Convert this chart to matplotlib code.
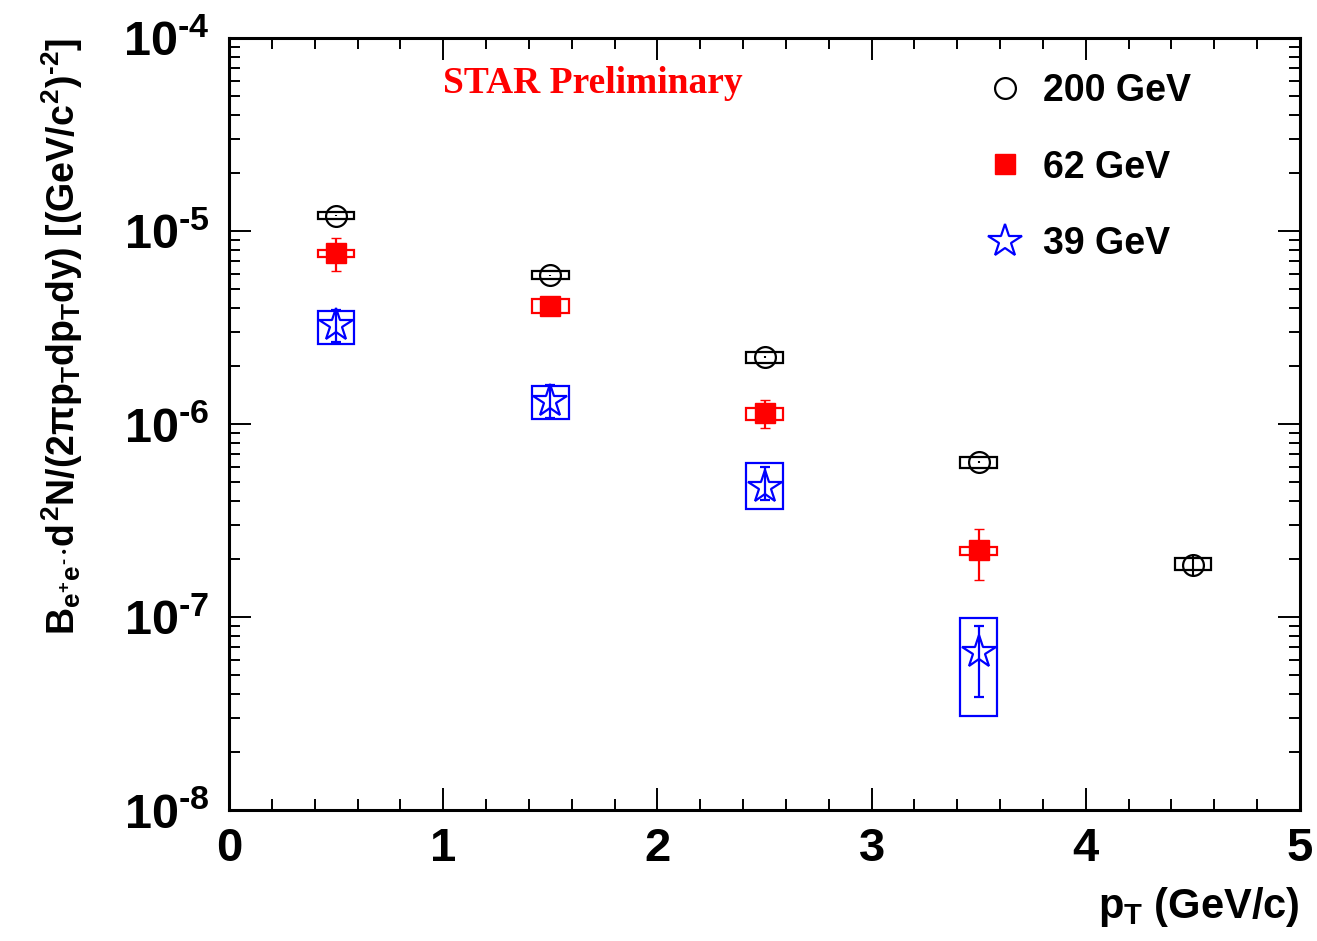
import math
import matplotlib
matplotlib.use('Agg')
import matplotlib.pyplot as plt
from matplotlib.patches import Rectangle
from matplotlib.lines import Line2D
from matplotlib.ticker import MultipleLocator, LogLocator, FuncFormatter, NullFormatter

plt.rcParams['font.family'] = ['Liberation Sans', 'DejaVu Sans']
plt.rcParams['font.weight'] = 'bold'
plt.rcParams['mathtext.fontset'] = 'custom'
plt.rcParams['mathtext.rm'] = 'Liberation Sans:bold'
plt.rcParams['mathtext.it'] = 'Liberation Sans:bold'
plt.rcParams['mathtext.bf'] = 'Liberation Sans:bold'

# data
pt_200 = [0.5, 1.5, 2.5, 3.5, 4.5]
y_200 = [1.20e-5, 5.9e-6, 2.22e-6, 6.35e-7, 1.86e-7]
stat_200 = [1.0e-7, 5.0e-8, 2.0e-8, 8.0e-9, 2.5e-8]
sys_lo_200 = [1.15e-5, 5.62e-6, 2.07e-6, 5.90e-7, 1.75e-7]
sys_hi_200 = [1.25e-5, 6.21e-6, 2.37e-6, 6.78e-7, 2.03e-7]

pt_62 = [0.5, 1.5, 2.5, 3.5]
y_62 = [7.69e-6, 4.08e-6, 1.14e-6, 2.22e-7]
stat_lo_62 = [6.2e-6, 3.8e-6, 0.95e-6, 1.56e-7]
stat_hi_62 = [9.2e-6, 4.4e-6, 1.33e-6, 2.86e-7]
sys_lo_62 = [7.36e-6, 3.78e-6, 1.05e-6, 2.09e-7]
sys_hi_62 = [7.98e-6, 4.45e-6, 1.21e-6, 2.31e-7]

pt_39 = [0.5, 1.5, 2.5, 3.5]
y_39 = [3.26e-6, 1.32e-6, 4.73e-7, 6.62e-8]
stat_lo_39 = [2.66e-6, 1.07e-6, 4.03e-7, 3.86e-8]
stat_hi_39 = [3.9e-6, 1.6e-6, 6.0e-7, 8.98e-8]
sys_lo_39 = [2.60e-6, 1.06e-6, 3.61e-7, 3.07e-8]
sys_hi_39 = [3.86e-6, 1.58e-6, 6.31e-7, 9.84e-8]

labels = ['200 GeV', '62 GeV', '39 GeV']

W, H = 1317, 941
fig = plt.figure(figsize=(W / 100, H / 100), dpi=100)
ax = fig.add_axes([229 / W, 1 - 810 / H, (1300 - 229) / W, (810 - 38) / H])
ax.set_yscale('log')
ax.set_xlim(0, 5)
ax.set_ylim(1e-8, 1e-4)

BOX_HW = 0.085


def draw_sys(x, lo, hi, color):
    for xi, l, h in zip(x, lo, hi):
        ax.add_patch(Rectangle((xi - BOX_HW, l), 2 * BOX_HW, h - l, fill=False,
                               edgecolor=color, linewidth=1.6, zorder=2))


draw_sys(pt_200, sys_lo_200, sys_hi_200, 'black')
draw_sys(pt_62, sys_lo_62, sys_hi_62, 'red')
draw_sys(pt_39, sys_lo_39, sys_hi_39, 'blue')

err_62 = [[y - l for y, l in zip(y_62, stat_lo_62)], [h - y for y, h in zip(y_62, stat_hi_62)]]
err_39 = [[y - l for y, l in zip(y_39, stat_lo_39)], [h - y for y, h in zip(y_39, stat_hi_39)]]

ax.errorbar(pt_200, y_200, yerr=stat_200, fmt='o', ms=15, mfc='none', mec='black',
            mew=1.6, ecolor='black', elinewidth=1.5, capsize=0, zorder=3)
ax.errorbar(pt_62, y_62, yerr=err_62, fmt='s', ms=15, mfc='red', mec='red',
            ecolor='red', elinewidth=1.6, capsize=3.5, zorder=3)
ax.errorbar(pt_39, y_39, yerr=err_39, fmt='*', ms=25, mfc='none', mec='blue',
            mew=1.6, ecolor='blue', elinewidth=1.6, capsize=3.5, zorder=3)

# axis styling, ROOT-like
ax.xaxis.set_major_locator(MultipleLocator(1))
ax.xaxis.set_minor_locator(MultipleLocator(0.2))
ax.yaxis.set_major_locator(LogLocator(base=10, numticks=10))
ax.yaxis.set_minor_locator(LogLocator(base=10, subs=range(2, 10), numticks=20))
ax.yaxis.set_minor_formatter(NullFormatter())
ax.yaxis.set_major_formatter(
    FuncFormatter(lambda v, p: r'$10^{\text{%d}}$' % round(math.log10(v))))
ax.tick_params(which='both', direction='in', top=True, right=True, width=1.4)
ax.tick_params(which='major', length=16)
ax.tick_params(which='minor', length=8)
ax.tick_params(axis='x', which='major', labelsize=34, pad=12)
ax.tick_params(axis='y', which='major', labelsize=35, pad=14)
for s in ax.spines.values():
    s.set_linewidth(2.2)

fig.text(1300 / W, 1 - 918 / H, r'$p_{T}$ (GeV/c)', ha='right', va='baseline',
         fontsize=30, fontweight='bold')
fig.text(62 / W, 1 - 38 / H,
         r'$B_{e^{\text{+}}e^{\text{-}}}{\cdot}d^{2}N/(2\pi p_{T}dp_{T}dy)$ '
         r'$[(GeV/c^{2})^{\text{-2}}]$',
         rotation=90, ha='center', va='top', fontsize=27, fontweight='bold')

fig.text(593 / W, 1 - 93 / H, 'STAR Preliminary', color='red', ha='center',
         va='baseline', fontsize=27, fontweight='bold',
         family=['Liberation Serif', 'DejaVu Serif'])

handles = [
    Line2D([], [], ls='none', marker='o', ms=15, mfc='none', mec='black', mew=1.6),
    Line2D([], [], ls='none', marker='s', ms=15, mfc='red', mec='red'),
    Line2D([], [], ls='none', marker='*', ms=25, mfc='none', mec='blue', mew=1.6),
]
ax.legend(handles, labels, loc='upper left', bbox_to_anchor=(990 / W, 1 - 73 / H),
          bbox_transform=fig.transFigure, frameon=False, fontsize=27,
          handlelength=0.8, handletextpad=0.62, labelspacing=1.08,
          borderpad=0, borderaxespad=0, numpoints=1)

fig.savefig('out.png', dpi=100)
